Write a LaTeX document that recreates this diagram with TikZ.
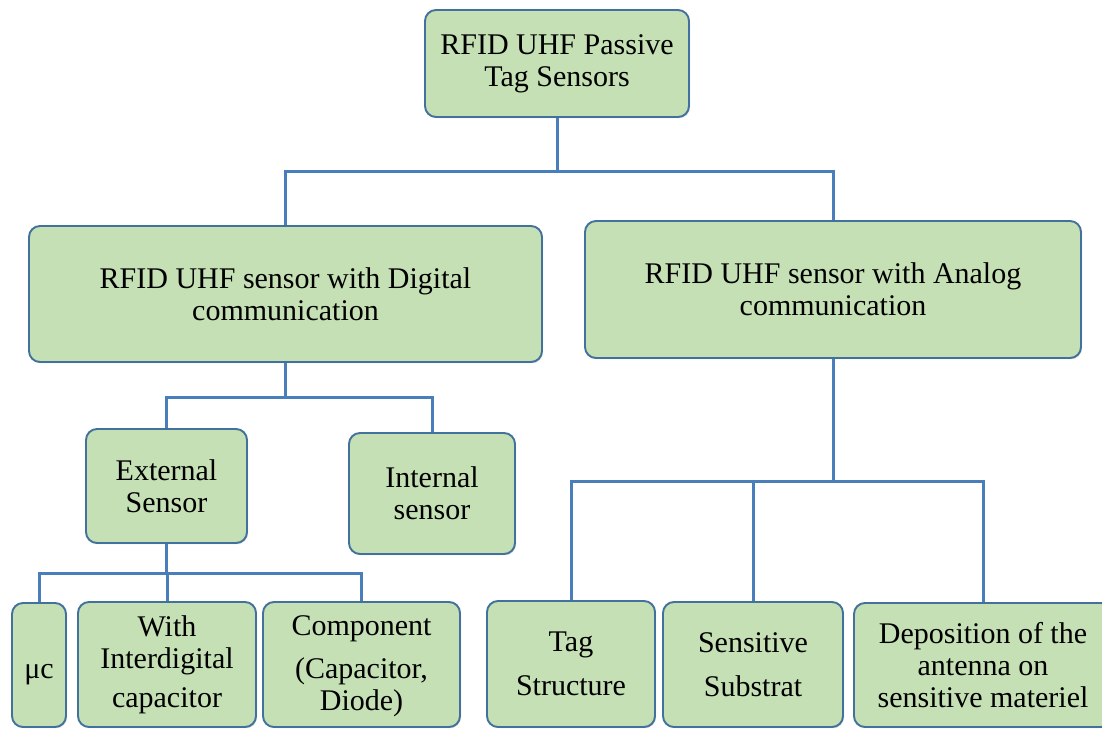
\documentclass[tikz,border=0pt]{standalone}
\usepackage{fontspec}
\setmainfont{Liberation Serif}
\usetikzlibrary{shadows,backgrounds}
\definecolor{boxfill}{HTML}{C5E0B4}
\definecolor{boxline}{HTML}{41719C}
\definecolor{wirecol}{HTML}{4A7EBB}
\begin{document}
\begin{tikzpicture}[x=1pt,y=-1pt,
  cardtext/.style={align=center, inner sep=0pt, font=\fontsize{30}{32}\selectfont},
  card/.style={cardtext, draw=boxline, fill=boxfill, line width=1.9pt,
    rounded corners=11pt,
    drop shadow={shadow xshift=1pt, shadow yshift=-1.2pt, opacity=0.35, fill=gray}},
  wire/.style={draw=wirecol, line width=3pt}]
\clip (0,0) rectangle (1102,728);

% root
\node[card, minimum width=264pt, minimum height=107pt] (root) at (557,63.5)
  {RFID UHF Passive\\Tag Sensors};

% two families of sensors
\node[card, minimum width=513pt, minimum height=136pt] (dig) at (285.5,294)
  {RFID UHF sensor with Digital\\communication};
\node[card, minimum width=496pt, minimum height=137pt] (ana) at (833,289.5)
  {RFID UHF sensor with Analog\\communication};

% digital branch
\node[card, minimum width=161pt, minimum height=114pt] (ext) at (166.5,486)
  {External\\Sensor};
\node[card, minimum width=166pt, minimum height=121pt] (int) at (432,493.5)
  {Internal\\sensor};

\node[card, minimum width=54pt, minimum height=124pt] (mu) at (39,665) {};
\node[cardtext] (mulabel) at ([yshift=-10pt]mu.center) {μc};
\node[card, minimum width=178pt, minimum height=125pt] (idc) at (167,664.5)
  {With\\Interdigital\\[7pt]capacitor};
\node[card, minimum width=197pt, minimum height=125pt] (comp) at (361.5,664.5)
  {\\[-8pt]Component\\[11pt](Capacitor,\\Diode)};

% analog branch
\node[card, minimum width=168pt, minimum height=126pt] (tag) at (571,664)
  {Tag\\[12pt]Structure};
\node[card, minimum width=180pt, minimum height=125pt] (sub) at (753,664.5)
  {Sensitive\\[12pt]Substrat};
\node[card, minimum width=258pt, minimum height=124pt] (dep) at (983,665)
  {Deposition of the\\antenna on\\sensitive materiel};

% bus levels
\coordinate (b1) at (0,171);
\coordinate (b2) at (0,397);
\coordinate (b3) at (0,573);
\coordinate (b4) at (0,481);

\begin{scope}[on background layer]
  \draw[wire] (root.south) -- (root.south |- b1) -| (dig.north);
  \draw[wire] (root.south |- b1) -| (ana.north);

  \draw[wire] (dig.south) -- (dig.south |- b2) -| (ext.north);
  \draw[wire] (dig.south |- b2) -| (int.north);

  \draw[wire] (ext.south) -- (ext.south |- b3) -| (mu.north);
  \draw[wire] (ext.south |- b3) -| (idc.north);
  \draw[wire] (ext.south |- b3) -| (comp.north);

  \draw[wire] (ana.south) -- (ana.south |- b4) -| (tag.north);
  \draw[wire] (ana.south |- b4) -| (sub.north);
  \draw[wire] (ana.south |- b4) -| (dep.north);
\end{scope}
\end{tikzpicture}
\end{document}
